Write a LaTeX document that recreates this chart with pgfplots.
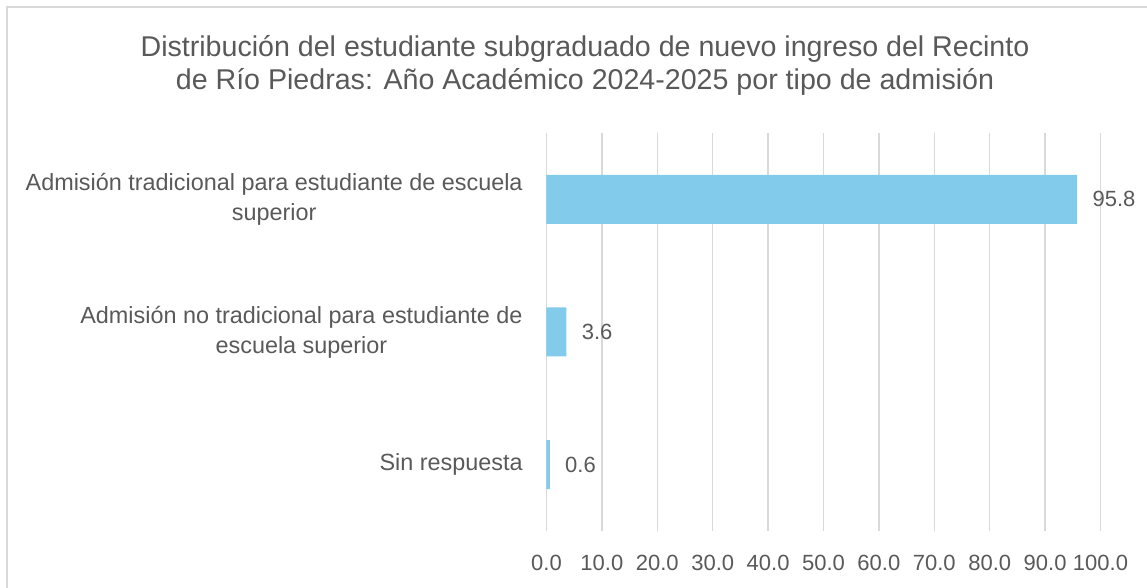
\documentclass[border=0pt]{standalone}
\usepackage{pgfplots}
\pgfplotsset{compat=1.18}
\usepackage{fontspec}
\setmainfont{Liberation Sans}
\definecolor{barblue}{HTML}{83CBEB}
\definecolor{gridgray}{HTML}{D9D9D9}
\definecolor{txtgray}{HTML}{595959}
\begin{document}
\begin{tikzpicture}[x=0.5pt,y=0.5pt]
\path[use as bounding box] (0,0) rectangle (1147,588);
\draw[gridgray,line width=1.2pt] (7,0) -- (7,581) -- (1147,581);
\node[txtgray,align=center,font=\fontsize{14.3}{16.5}\selectfont] at (585,523)
  {Distribución del estudiante subgraduado de nuevo ingreso del Recinto\\de Río Piedras: Año Académico 2024-2025 por tipo de admisión};
\begin{axis}[
  at={(273.25pt,28.5pt)}, anchor=south west,
  scale only axis, width=277pt, height=199pt,
  xbar, bar width=24.5pt,
  xmin=0, xmax=100, ymin=-0.5, ymax=2.5, y dir=reverse,
  xtick={0,10,...,100},
  ytick={0,1,2},
  yticklabels={{Admisión tradicional para estudiante de escuela\\superior},{Admisión no tradicional para estudiante de\\escuela superior},{Sin respuesta}},
  axis line style={draw=none},
  major tick length=0pt,
  xmajorgrids, grid style={gridgray,line width=0.75pt},
  xticklabel={\pgfmathprintnumber[fixed,fixed zerofill,precision=1]{\tick}},
  /pgf/number format/assume math mode=true,
  xticklabel style={font=\fontsize{11}{13}\selectfont, text=txtgray, inner sep=0pt, yshift=-12pt},
  yticklabel style={font=\fontsize{11.7}{15}\selectfont, text=txtgray, align=center, inner sep=0pt, xshift=-11.75pt},
  nodes near coords,
  nodes near coords style={font=\fontsize{11}{13}\selectfont, text=txtgray, anchor=west, inner sep=0pt, xshift=7.5pt},
  point meta=explicit symbolic,
  clip=false,
]
\addplot[fill=barblue, draw=none] coordinates {(95.8,0) [95.8] (3.6,1) [3.6] (0.6,2) [0.6]};
\end{axis}
\end{tikzpicture}
\end{document}
